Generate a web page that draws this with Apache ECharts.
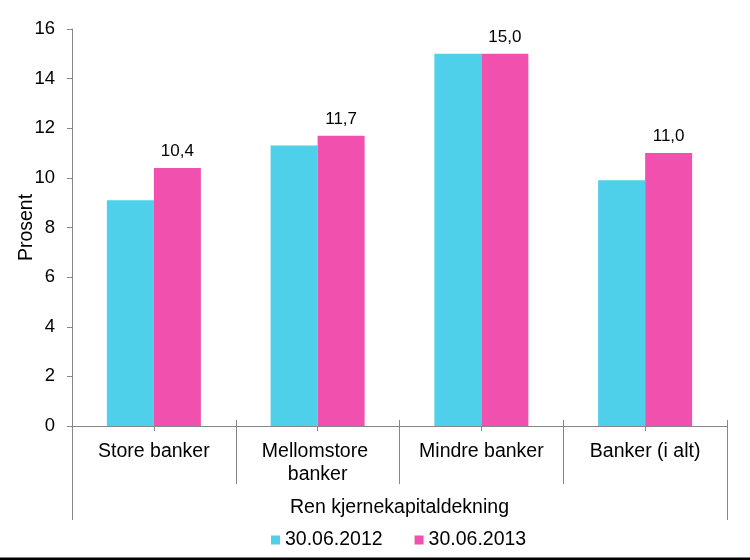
<!DOCTYPE html>
<html>
<head>
<meta charset="utf-8">
<script src="https://cdn.jsdelivr.net/npm/echarts@6/dist/echarts.min.js"></script>
<style>
html,body{margin:0;padding:0;background:#fff;}
#chart{width:750px;height:560px;}
</style>
</head>
<body>
<div id="chart"></div>
<script>
var categories = ['Store banker', 'Mellomstore banker', 'Mindre banker', 'Banker (i alt)'];
var groupLabel = ['Ren kjernekapitaldekning'];
var series2012 = [9.1, 11.3, 15.0, 9.9];
var series2013 = [10.4, 11.7, 15.0, 11.0];
var seriesNames = ['30.06.2012', '30.06.2013'];
var yTicks = [0, 2, 4, 6, 8, 10, 12, 14, 16];

var FONT = '"Liberation Sans", Arial, sans-serif';
var AXIS = '#868686';

var chart = echarts.init(document.getElementById('chart'), null, {renderer: 'canvas'});
chart.setOption({
  animation: false,
  backgroundColor: '#fff',
  textStyle: {fontFamily: FONT},
  grid: {left: 72, right: 23, top: 29, bottom: 134, containLabel: false, outerBoundsMode: 'none'},
  legend: {
    left: 266, top: 525,
    itemWidth: 9, itemHeight: 9, itemGap: 32,
    icon: 'rect',
    textStyle: {fontFamily: FONT, fontSize: 19.5, color: '#000'},
    data: seriesNames
  },
  xAxis: [
    {
      type: 'category', data: categories, position: 'bottom',
      axisLine: {show: true, lineStyle: {color: AXIS, width: 1}},
      axisTick: {show: true, alignWithLabel: false, interval: 0, length: 58, lineStyle: {color: AXIS}},
      axisLabel: {interval: 0, margin: 14, fontFamily: FONT, fontSize: 19.5, color: '#000', lineHeight: 23,
        width: 150, overflow: 'break'}
    },
    {
      type: 'category', data: categories, position: 'bottom',
      axisLine: {show: false},
      axisTick: {show: true, alignWithLabel: true, interval: 0, length: 5, lineStyle: {color: AXIS}},
      axisLabel: {show: false}
    },
    {
      type: 'category', data: categories, position: 'bottom',
      axisLine: {show: false},
      axisTick: {show: true, inside: true, alignWithLabel: false, interval: 0, length: 6, lineStyle: {color: AXIS}},
      axisLabel: {show: false}
    },
    {
      type: 'category', data: groupLabel, position: 'bottom',
      axisLine: {show: false},
      axisTick: {show: true, alignWithLabel: false, interval: 0, length: 94, lineStyle: {color: AXIS}},
      axisLabel: {interval: 0, margin: 72, fontFamily: FONT, fontSize: 19.5, color: '#000'}
    }
  ],
  yAxis: {
    type: 'value', min: yTicks[0], max: yTicks[yTicks.length - 1], interval: 2,
    name: 'Prosent', nameLocation: 'middle', nameGap: 35, nameRotate: 90, nameMoveOverlap: false,
    nameTextStyle: {fontFamily: FONT, fontSize: 19.5, color: '#000'},
    axisLine: {show: true, lineStyle: {color: AXIS, width: 1}},
    axisTick: {show: true, length: 5, lineStyle: {color: AXIS}},
    axisLabel: {margin: 17, fontFamily: FONT, fontSize: 18.5, color: '#000'},
    splitLine: {show: false}
  },
  series: [
    {
      name: seriesNames[0], type: 'bar', data: series2012,
      barGap: '0%', barCategoryGap: '42.6%',
      itemStyle: {color: '#4ecfea'}
    },
    {
      name: seriesNames[1], type: 'bar', data: series2013,
      barGap: '0%', barCategoryGap: '42.6%',
      itemStyle: {color: '#f150ae'},
      label: {
        show: true, position: 'top', distance: 8,
        fontFamily: FONT, fontSize: 17, color: '#000',
        formatter: function (p) { return p.value.toFixed(1).replace('.', ','); }
      }
    }
  ],
  graphic: [
    {type: 'rect', shape: {x: 0, y: 557.6, width: 750, height: 2.4}, style: {fill: '#000'}, silent: true}
  ]
});
</script>
</body>
</html>
